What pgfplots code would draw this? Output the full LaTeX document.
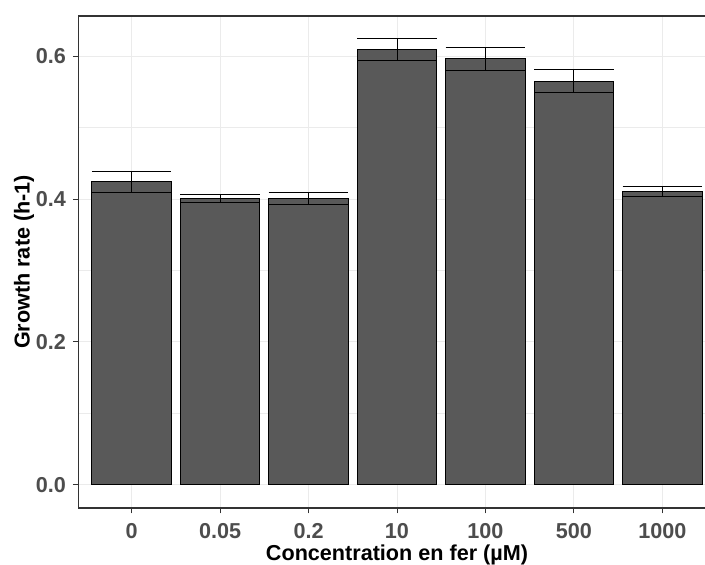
\documentclass[border=0pt]{standalone}
\usepackage{pgfplots}
\pgfplotsset{compat=1.18}
\usepackage{fontspec}
\setmainfont{Liberation Sans}
\definecolor{barfill}{HTML}{595959}
\definecolor{gridc}{HTML}{EBEBEB}
\definecolor{axc}{HTML}{333333}
\definecolor{tickc}{HTML}{4D4D4D}
\begin{document}
\begin{tikzpicture}
\begin{scope}
\clip (0,0) rectangle (352.5pt,282.5pt);
\begin{axis}[
  at={(39.25pt,28.5pt)}, anchor=south west,
  scale only axis, width=318.5pt, height=246pt,
  xmin=-0.6, xmax=6.6, ymin=-0.0322, ymax=0.656,
  xtick={0,1,2,3,4,5,6}, xticklabels={0,0.05,0.2,10,100,500,1000},
  ytick={0,0.2,0.4,0.6}, minor ytick={0.1,0.3,0.5},
  yticklabel style={/pgf/number format/.cd, fixed, fixed zerofill, precision=1},
  xticklabel style={yshift=-1.2pt},
  /pgf/number format/assume math mode=true,
  tick pos=left, tick align=outside, major tick length=2.75pt, minor tick length=0pt,
  tick style={axc, line width=0.5pt},
  axis line style={axc, line width=0.7pt},
  xmajorgrids, ymajorgrids, yminorgrids,
  major grid style={gridc, line width=0.5pt},
  minor grid style={gridc, line width=0.3pt},
  ticklabel style={font=\fontsize{10.8}{13}\selectfont\bfseries, text=tickc},
  label style={font=\fontsize{10.8}{13}\selectfont\bfseries, text=black},
  xlabel={Concentration en fer (µM)},
  ylabel={Growth rate (h-1)},
  xlabel style={at={(axis description cs:0.5,-0.095)}, anchor=center},
  ylabel style={at={(axis description cs:-0.0856,0.5)}, anchor=center},
]
\addplot[ybar, bar width=0.9, fill=barfill, draw=black, line width=0.5pt,
  error bars/.cd, y dir=both, y explicit, error mark=|,
  error bar style={black, line width=0.5pt},
  error mark options={black, line width=0.5pt, mark size=19.9pt}]
  table[x=x, y=y, y error=e] {
x y e
0 0.424 0.015
1 0.401 0.006
2 0.401 0.0085
3 0.609 0.0155
4 0.596 0.016
5 0.565 0.0155
6 0.411 0.007
};
\end{axis}
\end{scope}
\pgfresetboundingbox
\path[use as bounding box] (0,0) rectangle (352.5pt,282.5pt);
\end{tikzpicture}
\end{document}
